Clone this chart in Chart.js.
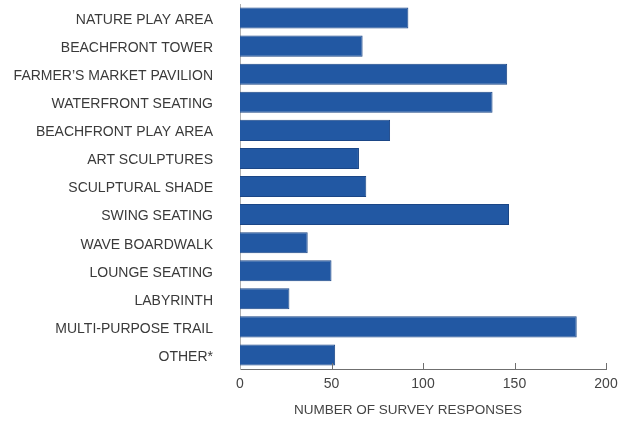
<!DOCTYPE html>
<html>
<head>
<meta charset="utf-8">
<script src="https://cdn.jsdelivr.net/npm/chart.js@4/dist/chart.umd.min.js"></script>
<style>
  html, body { margin: 0; padding: 0; background: #ffffff; }
  #wrap { position: relative; width: 621px; height: 422px; }
</style>
</head>
<body>
<div id="wrap"><canvas id="c" width="621" height="422"></canvas></div>
<script>
const categories = [
  "NATURE PLAY AREA",
  "BEACHFRONT TOWER",
  "FARMER\u2019S MARKET PAVILION",
  "WATERFRONT SEATING",
  "BEACHFRONT PLAY AREA",
  "ART SCULPTURES",
  "SCULPTURAL SHADE",
  "SWING SEATING",
  "WAVE BOARDWALK",
  "LOUNGE SEATING",
  "LABYRINTH",
  "MULTI-PURPOSE TRAIL",
  "OTHER*"
];
const responses = [92, 67, 146, 138, 82, 65, 69, 147, 37, 50, 27, 184, 52];
const xTicks = [0, 50, 100, 150, 200];
const xTitle = "NUMBER OF SURVEY RESPONSES";

const innerTicks = {
  id: 'innerTicks',
  afterDatasetsDraw(chart) {
    const xs = chart.scales.x;
    const ctx = chart.ctx;
    ctx.save();
    ctx.strokeStyle = '#6f6f6f';
    ctx.lineWidth = 1;
    xTicks.forEach(v => {
      if (v === 0) return;
      const px = Math.round(xs.getPixelForValue(v)) + 0.5;
      ctx.beginPath();
      ctx.moveTo(px, xs.top);
      ctx.lineTo(px, xs.top - 6);
      ctx.stroke();
    });
    ctx.restore();
  }
};

new Chart(document.getElementById('c'), {
  type: 'bar',
  data: {
    labels: categories,
    datasets: [{
      data: responses,
      backgroundColor: '#2258a3',
      borderColor: '#1b4686',
      borderWidth: 1,
      categoryPercentage: 1.0,
      barPercentage: 0.75
    }]
  },
  options: {
    indexAxis: 'y',
    responsive: false,
    animation: false,
    layout: { padding: { top: 4, right: 15, bottom: 0, left: 0 } },
    plugins: { legend: { display: false }, tooltip: { enabled: false } },
    scales: {
      x: {
        min: 0, max: 200,
        afterBuildTicks(scale) { scale.ticks = xTicks.map(v => ({ value: v })); },
        afterFit(scale) { scale.height = 53; scale.paddingLeft = 0; scale.paddingRight = 0; },
        grid: { display: false, drawTicks: false },
        border: { display: true, color: '#6f6f6f', width: 1 },
        ticks: {
          color: '#444444',
          padding: 7,
          font: { family: 'Liberation Sans', size: 14 }
        },
        title: {
          display: true,
          text: xTitle + '\u00a0'.repeat(8),
          color: '#444444',
          font: { family: 'Liberation Sans', size: 13.5 },
          padding: { top: 0, bottom: 4 }
        }
      },
      y: {
        afterFit(scale) { scale.width = 240; scale.paddingTop = 0; scale.paddingBottom = 0; },
        grid: { display: false, drawTicks: false },
        border: { display: true, color: '#b0b0b0', width: 1 },
        ticks: {
          color: '#3a3a3a',
          padding: 27,
          labelOffset: 2,
          autoSkip: false,
          font: { family: 'Liberation Sans', size: 14 }
        }
      }
    }
  },
  plugins: [innerTicks]
});
</script>
</body>
</html>
